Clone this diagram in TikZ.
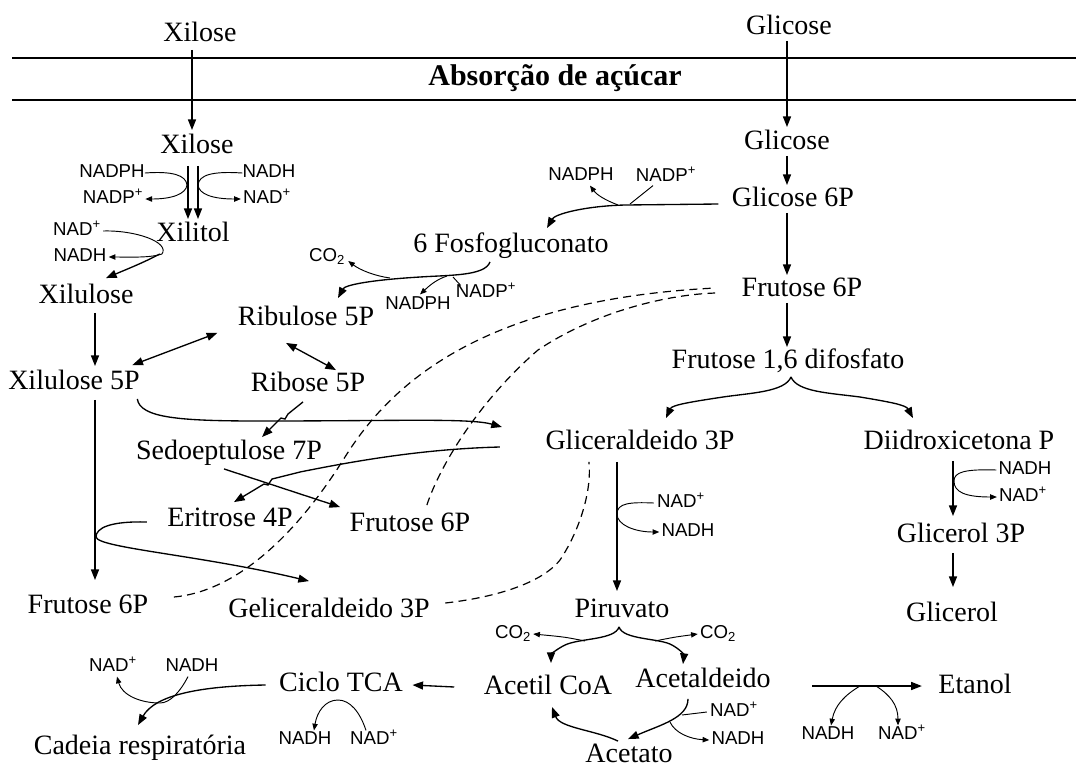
\documentclass[tikz,border=0pt]{standalone}
\usepackage{fontspec}
\setmainfont{Liberation Serif}
\newfontfamily\labelsans{Liberation Sans}
\usetikzlibrary{arrows.meta,calc}

\newcommand\metfont{\fontsize{21}{23}\selectfont}
\newcommand\coffont{\labelsans\fontsize{14}{16}\selectfont}

\tikzset{
	met/.style={font=\metfont, inner sep=1pt, text height=13pt, text depth=4pt},
	cof/.style={font=\coffont, inner sep=0pt, text height=9pt, text depth=2pt},
	arr/.style={line width=1pt, -{Triangle[length=8pt,width=6pt]}},
	sarr/.style={line width=0.7pt, -{Triangle[length=5pt,width=4pt]}},
	dbl/.style={line width=1pt, {Triangle[length=8pt,width=6pt]}-{Triangle[length=8pt,width=6pt]}},
	link/.style={line width=0.7pt},
	dashlink/.style={line width=0.9pt, dash pattern=on 6pt off 4pt},
	memb/.style={line width=2pt}
}

\begin{document}
\begin{tikzpicture}[x=0.75pt,y=-0.75pt]
	\useasboundingbox (0,0) rectangle (1076,769);
	% Membrane
	\draw[memb] (12,58) -- (1076,58);
	\draw[memb] (12,100) -- (1076,100);
	\node[font=\fontsize{22.5}{24}\selectfont\bfseries] (absorb) at (555,78) {Absorção de açúcar};
	% Metabolites
	\node[met] (xilA) at (200,35) {Xilose};
	\node[met] (gliA) at (789,28) {Glicose};
	\node[met] (xilB) at (197,147) {Xilose};
	\node[met] (xilt) at (193,235) {Xilitol};
	\node[met] (xlu) at (86,297) {Xilulose};
	\node[met] (xlu5) at (74,383) {Xilulose 5P};
	\node[met] (rbu5) at (306,319) {Ribulose 5P};
	\node[met] (rib5) at (308,385) {Ribose 5P};
	\node[met] (pgl) at (511,246) {6 Fosfogluconato};
	\node[met] (sed7) at (229,453) {Sedoeptulose 7P};
	\node[met] (eri4) at (230,520) {Eritrose 4P};
	\node[met] (fru6m) at (410,525) {Frutose 6P};
	\node[met] (fru6l) at (88,607) {Frutose 6P};
	\node[met] (gel3) at (329,611) {Geliceraldeido 3P};
	\node[met] (gliB) at (787,143) {Glicose};
	\node[met] (gli6) at (793,200) {Glicose 6P};
	\node[met] (fru6r) at (802,290) {Frutose 6P};
	\node[met] (fbp) at (788,362) {Frutose 1,6 difosfato};
	\node[met] (gap) at (640,443) {Gliceraldeido 3P};
	\node[met] (dhap) at (959,443) {Diidroxicetona P};
	\node[met] (g3p) at (961,536) {Glicerol 3P};
	\node[met] (glol) at (952,615) {Glicerol};
	\node[met] (pir) at (622,611) {Piruvato};
	\node[met] (acoa) at (548,688) {Acetil CoA};
	\node[met] (acal) at (703,681) {Acetaldeido};
	\node[met] (acet) at (629,756) {Acetato};
	\node[met] (etoh) at (975,687) {Etanol};
	\node[met] (tca) at (341,685) {Ciclo TCA};
	\node[met] (cad) at (140,748) {Cadeia respiratória};
	% Cofactors
	\node[cof] (nadphA) at (112,173) {NADPH};
	\node[cof] (nadpA) at (113,199) {NADP\textsuperscript{+}};
	\node[cof] (nadhA) at (269,173) {NADH};
	\node[cof] (nadA) at (267,199) {NAD\textsuperscript{+}};
	\node[cof] (nadB) at (77,231) {NAD\textsuperscript{+}};
	\node[cof] (nadhB) at (80,257) {NADH};
	\node[cof] (co2A) at (327,257) {CO\textsubscript{2}};
	\node[cof] (nadphC) at (418,305) {NADPH};
	\node[cof] (nadpC) at (486,293) {NADP\textsuperscript{+}};
	\node[cof] (nadphD) at (581,176) {NADPH};
	\node[cof] (nadpD) at (666,177) {NADP\textsuperscript{+}};
	\node[cof] (nadE) at (681,503) {NAD\textsuperscript{+}};
	\node[cof] (nadhE) at (688,532) {NADH};
	\node[cof] (nadhF) at (1025,470) {NADH};
	\node[cof] (nadF) at (1023,497) {NAD\textsuperscript{+}};
	\node[cof] (co2G) at (513,634) {CO\textsubscript{2}};
	\node[cof] (co2H) at (718,634) {CO\textsubscript{2}};
	\node[cof] (nadI) at (734,712) {NAD\textsuperscript{+}};
	\node[cof] (nadhI) at (738,740) {NADH};
	\node[cof] (nadhJ) at (828,735) {NADH};
	\node[cof] (nadJ) at (902,735) {NAD\textsuperscript{+}};
	\node[cof] (nadhK) at (305,740) {NADH};
	\node[cof] (nadK) at (374,740) {NAD\textsuperscript{+}};
	\node[cof] (nadL) at (113,667) {NAD\textsuperscript{+}};
	\node[cof] (nadhL) at (192,667) {NADH};
	% Uptake
	\draw[arr] ($(xilA.south)+(-8,2)$) -- ($(xilB.north)+(-5,-4)$);
	\draw[arr] (gliB |- gliA.south) -- ($(gliB.north)+(0,-3)$);
	% Xylose branch
	\draw[arr] ($(xilB.south)+(-9,6)$) -- ($(xilt.north)+(-5,-3)$);
	\draw[arr] ($(xilB.south)+(1,6)$) -- ($(xilt.north)+(5,-3)$);
	\draw[sarr] (nadphA.east) .. controls (172,171) and (186,175) .. (187,185) .. controls (186,194) and (172,199) .. ($(nadpA.east)+(2,0)$);
	\draw[sarr] (nadhA.west) .. controls (212,171) and (199,175) .. (198,185) .. controls (199,194) and (212,199) .. ($(nadA.west)+(-2,0)$);
	\draw[arr] ($(xilt.south west)+(5,6)$) .. controls (145,262) and (125,270) .. ($(xlu.north)+(20,-6)$);
	\draw[link] ($(nadB.east)+(2,0)$) .. controls (135,230) and (170,242) .. (162,254);
	\draw[sarr] (162,254) .. controls (150,258) and (130,257) .. ($(nadhB.east)+(2,0)$);
	\draw[arr] ($(xlu.south)+(9,3)$) -- ($(xlu5.north)+(21,-4)$);
	% Pentose phosphate
	\draw[dbl] ($(xlu5.north east)+(-9,-5)$) -- ($(rbu5.south west)+(-19,1)$);
	\draw[dbl] ($(rbu5.south)+(-20,11)$) -- ($(rib5.north)+(28,-2)$);
	\draw[arr] ($(rib5.south)+(-5,4)$) -- (288,414) -- (285,419) -- (281,418) -- ($(sed7.north)+(33,-3)$);
	\draw[arr] ($(xlu5.south east)+(-4,3)$) .. controls (140,418) and (180,421) .. (260,421) .. controls (400,421) and (470,418) .. ($(gap.west)+(-42,-16)$);
	\draw[arr] ($(gap.west)+(-44,4)$) .. controls (420,449) and (350,462) .. (300,472) -- (272,479) -- (268,485) -- (264,484) -- ($(eri4.north)+(4,-5)$);
	\draw[arr] ($(sed7.south)+(-5,3)$) -- ($(fru6m.north west)+(-8,-5)$);
	\draw[arr] ($(xlu5.south)+(21,4)$) -- ($(fru6l.north)+(7,-14)$);
	\draw[arr] ($(eri4.west)+(-19,2)$) .. controls (110,521) and (96,528) .. (96,537) .. controls (98,548) and (200,555) .. ($(gel3.north)+(-20,-17)$);
	\draw[arr] ($(pgl.south)+(-21,3)$) .. controls (485,276) and (450,275) .. (420,277) .. controls (370,280) and (345,285) .. ($(rbu5.north)+(32,-8)$);
	\draw[sarr] (390,278) .. controls (375,276) and (360,270) .. ($(co2A.east)+(3,4)$);
	\draw[sarr] (447,276) .. controls (435,280) and (428,287) .. ($(nadphC.north)+(2,-3)$);
	\draw[link] ($(nadpC.north west)+(5,0)$) -- (453,277);
	\draw[arr] ($(gli6.west)+(-12,4)$) -- (625,205) .. controls (585,206) and (555,214) .. ($(pgl.north)+(36,-5)$);
	\draw[sarr] (618,205) .. controls (605,200) and (597,195) .. ($(nadphD.south)+(9,2)$);
	\draw[link] ($(nadpD.south)+(-13,1)$) -- (630,204);
	% Dashed returns
	\draw[dashlink] ($(fru6l.east)+(24,-10)$) .. controls (230,592) and (290,545) .. (345,457) .. controls (390,385) and (480,300) .. ($(fru6r.west)+(-25,-2)$);
	\draw[dashlink] ($(fru6m.north east)+(-45,-7)$) .. controls (440,465) and (480,400) .. (538,350) .. controls (590,315) and (660,295) .. ($(fru6r.west)+(-25,3)$);
	\draw[dashlink] ($(gel3.east)+(14,-8)$) .. controls (490,598) and (540,585) .. (560,560) .. controls (580,530) and (592,490) .. ($(gap.south west)+(45,6)$);
	% Glycolysis
	\draw[arr] (gliB.south) -- ($(gliB.south |- gli6.north)+(0,-2)$);
	\draw[arr] (gliB |- gli6.south) -- ($(gliB |- fru6r.north)+(0,-2)$);
	\draw[arr] (gliB |- fru6r.south) -- ($(gliB |- fbp.north)+(0,-2)$);
	\draw[arr] ($(fbp.south)+(3,2)$) .. controls (785,392) and (750,393) .. (723,397) .. controls (690,402) and (672,405) .. ($(gap.north)+(26,-12)$);
	\draw[arr] ($(fbp.south)+(3,2)$) .. controls (797,392) and (830,393) .. (860,397) .. controls (890,402) and (906,405) .. ($(dhap.north)+(-46,-12)$);
	\draw[arr] ($(gap.south)+(-23,6)$) -- ($(pir.north)+(-5,-7)$);
	\draw[sarr] ($(nadE.west)+(-3,0)$) .. controls (630,502) and (617,503) .. (617,514) .. controls (617,525) and (635,532) .. ($(nadhE.west)+(-2,0)$);
	\draw[arr] ($(dhap.south)+(-6,5)$) -- ($(g3p.north)+(-8,-7)$);
	\draw[sarr] ($(nadhF.west)+(-2,0)$) .. controls (965,469) and (954,472) .. (954,481) .. controls (954,492) and (965,497) .. ($(nadF.west)+(-2,0)$);
	\draw[arr] ($(g3p.south)+(-8,4)$) -- ($(glol.north)+(1,-15)$);
	% Pyruvate
	\draw[arr] ($(pir.south)+(-3,3)$) .. controls (615,640) and (580,638) .. (565,645) .. controls (555,650) and (551,655) .. ($(acoa.north)+(3,-12)$);
	\draw[arr] ($(pir.south)+(-3,3)$) .. controls (623,640) and (660,638) .. (672,645) .. controls (681,650) and (684,655) .. ($(acal.north)+(-20,-4)$);
	\draw[sarr] (585,641) .. controls (565,637) .. ($(co2G.east)+(2,0)$);
	\draw[sarr] (655,641) .. controls (675,637) .. ($(co2H.west)+(-2,0)$);
	\draw[arr] ($(acal.south)+(-15,5)$) .. controls (688,718) and (660,725) .. ($(acet.north)+(-1,-4)$);
	\draw[link] ($(nadI.west)+(-3,0)$) -- (682,715);
	\draw[sarr] (670,722) .. controls (675,733) and (690,739) .. ($(nadhI.west)+(-2,0)$);
	\draw[arr] ($(acet.north)+(-11,-2)$) .. controls (595,730) and (560,728) .. ($(acoa.south)+(4,6)$);
	\draw[arr] ($(acal.east)+(40,5)$) -- ($(etoh.west)+(-15,-1)$);
	\draw[sarr] (860,686) .. controls (845,695) and (835,705) .. ($(nadhJ.north)+(3,-2)$);
	\draw[sarr] (876,686) .. controls (890,695) and (898,705) .. ($(nadJ.north)+(-4,-2)$);
	% TCA
	\draw[arr] ($(acoa.west)+(-28,-1)$) -- ($(tca.east)+(8,0)$);
	\draw[sarr] ($(nadK.north)+(-8,-2)$) .. controls (360,712) and (350,700) .. (338,700) .. controls (325,700) and (317,712) .. ($(nadhK.north)+(9,-2)$);
	\draw[arr] ($(tca.west)+(-12,0)$) .. controls (200,686) and (155,695) .. ($(cad.north)+(-2,-10)$);
	\draw[sarr] ($(nadhL.south)+(-4,2)$) .. controls (180,692) and (170,703) .. (160,703) .. controls (140,703) and (122,695) .. ($(nadL.south)+(4,2)$);
\end{tikzpicture}
\end{document}
